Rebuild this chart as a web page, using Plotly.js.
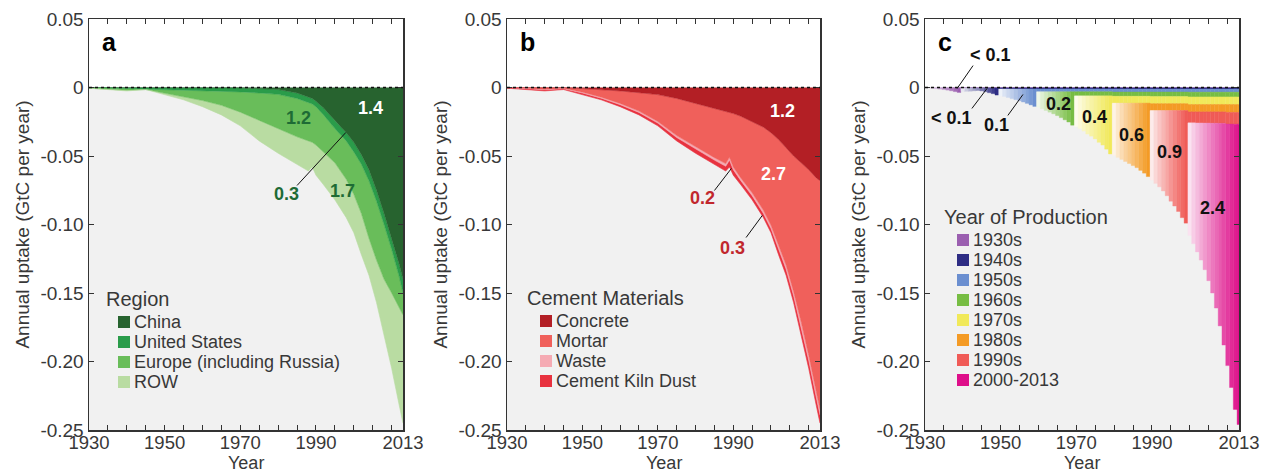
<!DOCTYPE html>
<html><head><meta charset="utf-8">
<script src="https://cdn.plot.ly/plotly-3.0.1.min.js"></script>
<style>html,body{margin:0;padding:0;background:#fff}#chart{width:1278px;height:474px}</style>
</head><body><div id="chart"></div>
<script>
// ---------------- DATA (GtC per year, negative = uptake) ----------------
const years = [1930,1935,1940,1945,1950,1955,1960,1965,1970,1975,1980,1985,1988,1989,1990,1992,1995,1998,2000,2002,2004,2006,2008,2010,2012,2013];

// Panel a: regions
const china  = [0,0,0,0,0,0,0,0,-0.0003,-0.0008,-0.0015,-0.004,-0.007,-0.008,-0.010,-0.015,-0.024,-0.033,-0.040,-0.049,-0.060,-0.075,-0.092,-0.110,-0.129,-0.140];
const usa    = [0,-0.0004,-0.0007,-0.0008,-0.0012,-0.0018,-0.0022,-0.0027,-0.0029,-0.0032,-0.0035,-0.004,-0.004,-0.004,-0.004,-0.005,-0.006,-0.006,-0.007,-0.007,-0.008,-0.008,-0.008,-0.008,-0.009,-0.010];
const europe = [-0.0005,-0.0008,-0.0013,-0.0007,-0.0028,-0.0047,-0.0073,-0.0103,-0.0148,-0.020,-0.025,-0.028,-0.028,-0.028,-0.028,-0.027,-0.025,-0.028,-0.031,-0.036,-0.042,-0.043,-0.040,-0.032,-0.022,-0.016];
const row    = [0,-0.0003,-0.0005,0,-0.001,-0.0025,-0.0045,-0.007,-0.010,-0.015,-0.018,-0.020,-0.022,-0.018,-0.022,-0.024,-0.027,-0.028,-0.028,-0.030,-0.027,-0.031,-0.040,-0.055,-0.072,-0.079];

// Panel b: cement materials
const concrete = [0,0,0,-0.0003,-0.0008,-0.0015,-0.0025,-0.0038,-0.0052,-0.008,-0.0115,-0.0155,-0.0175,-0.018,-0.019,-0.021,-0.025,-0.029,-0.033,-0.038,-0.044,-0.050,-0.055,-0.060,-0.066,-0.068];
const mortar   = [-0.0002,-0.0008,-0.0014,-0.0004,-0.0027,-0.0056,-0.0091,-0.0134,-0.0196,-0.0271,-0.0319,-0.0357,-0.038,-0.033,-0.039,-0.045,-0.0518,-0.0606,-0.0675,-0.0778,-0.0855,-0.099,-0.116,-0.1355,-0.156,-0.167];
const waste    = [0,-0.0002,-0.0003,-0.0003,-0.0005,-0.0007,-0.0009,-0.001,-0.0012,-0.0014,-0.0016,-0.0018,-0.002,-0.002,-0.002,-0.002,-0.0022,-0.0024,-0.0025,-0.0027,-0.003,-0.003,-0.0035,-0.0035,-0.004,-0.004];
const ckd      = [-0.0003,-0.0005,-0.0008,-0.0005,-0.001,-0.0012,-0.0015,-0.0018,-0.002,-0.0025,-0.003,-0.003,-0.0035,-0.005,-0.004,-0.003,-0.003,-0.003,-0.003,-0.0035,-0.0045,-0.005,-0.0055,-0.006,-0.006,-0.006];

// Panel c: uptake by decade of production, one value per year from the decade's first year to 2013
const c1930s = [-0.0002,-0.0004,-0.0006,-0.0009,-0.0012,-0.0015,-0.0019,-0.0024,-0.0030,-0.0036,
  -0.0003,-0.0003,-0.0003,-0.0003,-0.0003,-0.0003,-0.0003,-0.0003,-0.0003,-0.0003,
  -0.0003,-0.0003,-0.0003,-0.0003,-0.0003,-0.0003,-0.0003,-0.0003,-0.0003,-0.0003,
  -0.0003,-0.0003,-0.0003,-0.0003,-0.0003,-0.0003,-0.0003,-0.0003,-0.0003,-0.0003,
  -0.0003,-0.0003,-0.0003,-0.0003,-0.0003,-0.0003,-0.0003,-0.0003,-0.0003,-0.0003,
  -0.0003,-0.0003,-0.0003,-0.0003,-0.0003,-0.0003,-0.0003,-0.0003,-0.0003,-0.0003,
  -0.0003,-0.0003,-0.0003,-0.0003,-0.0003,-0.0003,-0.0003,-0.0003,-0.0003,-0.0003,
  -0.0003,-0.0003,-0.0003,-0.0003,-0.0003,-0.0003,-0.0003,-0.0003,-0.0003,-0.0003,
  -0.0003,-0.0003,-0.0003,-0.0003];
const c1940s = [-0.0027,-0.0025,-0.0024,-0.0021,-0.0019,-0.0022,-0.0028,-0.0035,-0.0042,-0.0052,
  -0.0008,-0.0008,-0.0008,-0.0008,-0.0008,-0.0008,-0.0008,-0.0008,-0.0008,-0.0008,
  -0.0008,-0.0008,-0.0008,-0.0008,-0.0008,-0.0008,-0.0008,-0.0008,-0.0008,-0.0008,
  -0.0008,-0.0008,-0.0008,-0.0008,-0.0008,-0.0008,-0.0008,-0.0008,-0.0008,-0.0008,
  -0.0009,-0.0009,-0.0009,-0.0009,-0.0009,-0.0009,-0.0009,-0.0009,-0.0009,-0.0009,
  -0.0009,-0.0009,-0.0009,-0.0009,-0.0009,-0.0009,-0.0009,-0.0009,-0.0009,-0.0009,
  -0.0009,-0.0009,-0.0009,-0.0009,-0.0009,-0.0009,-0.0009,-0.0009,-0.0009,-0.0009,
  -0.0009,-0.0009,-0.0009,-0.0009];
const c1950s = [-0.0049,-0.0055,-0.0062,-0.0070,-0.0078,-0.0086,-0.0095,-0.0105,-0.0116,-0.0127,
  -0.0020,-0.0020,-0.0020,-0.0020,-0.0020,-0.0020,-0.0020,-0.0020,-0.0020,-0.0020,
  -0.0020,-0.0020,-0.0020,-0.0020,-0.0020,-0.0020,-0.0020,-0.0020,-0.0020,-0.0020,
  -0.0021,-0.0021,-0.0021,-0.0021,-0.0021,-0.0021,-0.0021,-0.0021,-0.0021,-0.0021,
  -0.0021,-0.0021,-0.0021,-0.0021,-0.0021,-0.0021,-0.0021,-0.0021,-0.0021,-0.0021,
  -0.0022,-0.0022,-0.0022,-0.0022,-0.0022,-0.0022,-0.0022,-0.0022,-0.0022,-0.0022,
  -0.0022,-0.0022,-0.0022,-0.0022];
const c1960s = [-0.0114,-0.0125,-0.0137,-0.0149,-0.0161,-0.0174,-0.0189,-0.0205,-0.0221,-0.0244,
  -0.0030,-0.0030,-0.0030,-0.0030,-0.0030,-0.0030,-0.0030,-0.0030,-0.0030,-0.0030,
  -0.0031,-0.0031,-0.0031,-0.0031,-0.0031,-0.0031,-0.0031,-0.0031,-0.0031,-0.0031,
  -0.0033,-0.0033,-0.0033,-0.0033,-0.0033,-0.0033,-0.0033,-0.0033,-0.0033,-0.0033,
  -0.0035,-0.0035,-0.0035,-0.0035,-0.0035,-0.0035,-0.0035,-0.0035,-0.0035,-0.0035,
  -0.0035,-0.0035,-0.0035,-0.0035];
const c1970s = [-0.0224,-0.0239,-0.0257,-0.0279,-0.0294,-0.0314,-0.0339,-0.0359,-0.0389,-0.0424,
  -0.0050,-0.0050,-0.0050,-0.0050,-0.0050,-0.0050,-0.0050,-0.0050,-0.0050,-0.0050,
  -0.0052,-0.0052,-0.0052,-0.0052,-0.0052,-0.0052,-0.0052,-0.0052,-0.0052,-0.0052,
  -0.0055,-0.0055,-0.0055,-0.0055,-0.0055,-0.0055,-0.0055,-0.0055,-0.0055,-0.0055,
  -0.0055,-0.0055,-0.0055,-0.0055];
const c1980s = [-0.0381,-0.0396,-0.0411,-0.0426,-0.0441,-0.0456,-0.0471,-0.0491,-0.0511,-0.0536,
  -0.0050,-0.0050,-0.0050,-0.0050,-0.0050,-0.0050,-0.0050,-0.0050,-0.0050,-0.0050,
  -0.0054,-0.0054,-0.0054,-0.0054,-0.0054,-0.0054,-0.0054,-0.0054,-0.0054,-0.0054,
  -0.0058,-0.0058,-0.0058,-0.0058];
const c1990s = [-0.0507,-0.0532,-0.0557,-0.0587,-0.0622,-0.0662,-0.0697,-0.0737,-0.0782,-0.0822,
  -0.0080,-0.0080,-0.0081,-0.0081,-0.0082,-0.0082,-0.0083,-0.0083,-0.0084,-0.0084,
  -0.0085,-0.0085,-0.0086,-0.0086];
const c2000s = [-0.0822,-0.0882,-0.0941,-0.1001,-0.1070,-0.1150,-0.1239,-0.1349,-0.1478,-0.1618,-0.1763,-0.1923,-0.2082,-0.2192];

const decadeNames  = ['1930s','1940s','1950s','1960s','1970s','1980s','1990s','2000-2013'];
const decadeStarts = [1930,1940,1950,1960,1970,1980,1990,2000];
const decadeLens   = [10,10,10,10,10,10,10,14];
const decadeVals   = [c1930s,c1940s,c1950s,c1960s,c1970s,c1980s,c1990s,c2000s];

// Tick labels
const xTickVals = [1930,1950,1970,1990,2013];
const xTickText = ['1930','1950','1970','1990','2013'];
const yTickVals = [0.05,0,-0.05,-0.10,-0.15,-0.20,-0.25];
const yTickText = ['0.05','0','-0.05','-0.10','-0.15','-0.20','-0.25'];

// ---------------- STYLE ----------------
const W = 1278, H = 474;
const PX = x => x / W, PY = y => 1 - y / H;
const FONT = 'Liberation Sans, Arial, Helvetica, sans-serif';
const TXT = '#383838';

const colA = ['#27632f','#2a9c4a','#69bd5a','#b9dca2'];
const colB = ['#b31f25','#f0605b','#f5aab3','#e8323f'];
const colC = ['#9b5fb0','#2e2d84','#6b8fd0','#77bd43','#f1e95a','#f49b25','#f05b57','#de0f8a'];

function mixWhite(hex, f) {
  const r = parseInt(hex.slice(1,3),16), g = parseInt(hex.slice(3,5),16), b = parseInt(hex.slice(5,7),16);
  const m = c => Math.round(255 + (c - 255) * f);
  return 'rgb(' + m(r) + ',' + m(g) + ',' + m(b) + ')';
}

const traces = [];
function area(y, color, xa, ya, grp) {
  traces.push({type:'scatter', x:years, y:y, stackgroup:grp, mode:'lines',
    line:{width:0.6, color:color}, fillcolor:color, xaxis:xa, yaxis:ya,
    hoverinfo:'skip', showlegend:false});
}
[china, usa, europe, row].forEach((s,i) => area(s, colA[i], 'x', 'y', 'ga'));
[concrete, mortar, waste, ckd].forEach((s,i) => area(s, colB[i], 'x2', 'y2', 'gb'));

decadeVals.forEach((vals, k) => {
  const start = decadeStarts[k], n = decadeLens[k];
  const xs = vals.map((_, i) => start + i);
  const cols = vals.map((_, i) => i < n ? mixWhite(colC[k], 0.12 + 0.88 * Math.pow(i / (n - 1), 0.9)) : colC[k]);
  traces.push({type:'bar', x:xs, y:vals, width:1, xaxis:'x3', yaxis:'y3',
    marker:{color:cols, line:{width:0.4, color:cols}}, hoverinfo:'skip', showlegend:false});
});

const yDom = [PY(430), PY(19)];
function xAxis(d0, d1, anchor) {
  return {domain:[PX(d0), PX(d1)], anchor:anchor, range:[1930,2013], tickmode:'array',
    tickvals:xTickVals, ticktext:xTickText, ticks:'inside', ticklen:5, tickwidth:1, tickcolor:'#333',
    minor:{tickmode:'linear', tick0:1930, dtick:5, ticks:'inside', ticklen:5, tickwidth:1, tickcolor:'#333', showgrid:false},
    showline:true, linecolor:'#333', linewidth:1.5, mirror:'ticks', showgrid:false, zeroline:false,
    tickfont:{family:FONT, size:18.5, color:TXT}, ticklabelstandoff:-5, fixedrange:true};
}
function yAxis(anchor) {
  return {domain:yDom, anchor:anchor, range:[-0.25,0.05], tickmode:'array',
    tickvals:yTickVals, ticktext:yTickText, ticks:'inside', ticklen:5, tickwidth:1, tickcolor:'#333',
    showline:true, linecolor:'#333', linewidth:1.5, mirror:'ticks', showgrid:false, zeroline:false,
    tickfont:{family:FONT, size:19, color:TXT},
    title:{text:'Annual uptake (GtC per year)', font:{family:FONT, size:19, color:TXT}, standoff:5}, fixedrange:true};
}

const shapes = [], annotations = [];
[['x','y'],['x2','y2'],['x3','y3']].forEach(([xa, ya]) => {
  shapes.push({type:'rect', xref:xa, yref:ya, x0:1930, x1:2013, y0:-0.25, y1:0, fillcolor:'#f1f1f1', line:{width:0}, layer:'below'});
  shapes.push({type:'line', xref:xa, yref:ya, x0:1930, x1:2013, y0:0, y1:0, line:{color:'#111', width:1.6, dash:'dot'}, layer:'above'});
});

// x-axis titles
[246, 663.5, 1082].forEach(cx => annotations.push({text:'Year', xref:'paper', yref:'paper', x:PX(cx), y:PY(463),
  xanchor:'center', yanchor:'middle', showarrow:false, font:{family:FONT, size:18, color:TXT}}));

// panel letters
[['a',100],['b',518],['c',936]].forEach(([t, x]) => annotations.push({text:'<b>'+t+'</b>', xref:'paper', yref:'paper',
  x:PX(x), y:PY(42), xanchor:'left', yanchor:'middle', showarrow:false, font:{family:FONT, size:25, color:'#000'}}));

function lab(t, x, y, xa, ya, color) {
  annotations.push({text:'<b>'+t+'</b>', xref:xa, yref:ya, x:x, y:y, xanchor:'center', yanchor:'middle',
    showarrow:false, font:{family:FONT, size:18, color:color}});
}
function leader(x0, y0, x1, y1, xa, ya) {
  shapes.push({type:'line', xref:xa, yref:ya, x0:x0, y0:y0, x1:x1, y1:y1, line:{color:'#111', width:1}, layer:'above'});
}
const gTxt = '#1e6b35', rTxt = '#c1272d';
lab('1.4', 2004.5, -0.0153, 'x', 'y', '#fff');
lab('1.2', 1985.5, -0.0226, 'x', 'y', gTxt);
lab('1.7', 1997.1, -0.0752, 'x', 'y', gTxt);
lab('0.3', 1982.3, -0.0781, 'x', 'y', gTxt);
leader(1985.0, -0.0715, 1997.9, -0.0328, 'x', 'y');

lab('1.2', 2003.0, -0.0168, 'x2', 'y2', '#fff');
lab('2.7', 2000.8, -0.0628, 'x2', 'y2', '#fff');
lab('0.2', 1981.8, -0.0810, 'x2', 'y2', rTxt);
lab('0.3', 1989.7, -0.1168, 'x2', 'y2', rTxt);
leader(1985.0, -0.0752, 1989.5, -0.0591, 'x2', 'y2');
leader(1993.4, -0.1095, 1997.7, -0.0934, 'x2', 'y2');

lab('&lt; 0.1', 1947.3, 0.0234, 'x3', 'y3', '#111');
lab('&lt; 0.1', 1937.0, -0.0226, 'x3', 'y3', '#111');
lab('0.1', 1948.9, -0.0277, 'x3', 'y3', '#111');
lab('0.2', 1965.4, -0.0117, 'x3', 'y3', '#111');
lab('0.4', 1974.9, -0.0219, 'x3', 'y3', '#111');
lab('0.6', 1984.7, -0.0350, 'x3', 'y3', '#111');
lab('0.9', 1994.6, -0.0474, 'x3', 'y3', '#111');
lab('2.4', 2006.1, -0.0883, 'x3', 'y3', '#111');
leader(1942.7, 0.0160, 1938.5, -0.0007, 'x3', 'y3');
leader(1942.4, -0.0153, 1946.4, -0.0007, 'x3', 'y3');
leader(1951.9, -0.0204, 1955.9, -0.0051, 'x3', 'y3');

// legends (drawn manually)
function legend(title, tx, ty, sx, rows, names, cols) {
  annotations.push({text:title, xref:'paper', yref:'paper', x:PX(tx), y:PY(ty), xanchor:'left', yanchor:'middle',
    showarrow:false, font:{family:FONT, size:20, color:TXT}});
  names.forEach((n, i) => {
    const cy = rows[i];
    shapes.push({type:'rect', xref:'paper', yref:'paper', x0:PX(sx), x1:PX(sx+12), y0:PY(cy+6), y1:PY(cy-6),
      fillcolor:cols[i], line:{width:0}});
    annotations.push({text:n, xref:'paper', yref:'paper', x:PX(sx+14), y:PY(cy), xanchor:'left', yanchor:'middle',
      showarrow:false, font:{family:FONT, size:18, color:TXT}});
  });
}
legend('Region', 104, 299, 118, [322,342,362,382], ['China','United States','Europe (including Russia)','ROW'], colA);
legend('Cement Materials', 525, 298, 540, [321,341,361,381], ['Concrete','Mortar','Waste','Cement Kiln Dust'], colB);
legend('Year of Production', 942, 217, 957, [240,260,280,300,320,340,360,380], decadeNames, colC);

const layout = {
  width:W, height:H, margin:{l:0, r:0, t:0, b:0}, paper_bgcolor:'#fff', plot_bgcolor:'#fff',
  showlegend:false, barmode:'relative', bargap:0, font:{family:FONT, color:TXT},
  xaxis:xAxis(89, 403, 'y'), yaxis:yAxis('x'),
  xaxis2:xAxis(507, 820, 'y2'), yaxis2:yAxis('x2'),
  xaxis3:xAxis(925, 1239, 'y3'), yaxis3:yAxis('x3'),
  shapes:shapes, annotations:annotations
};
Plotly.newPlot('chart', traces, layout, {staticPlot:true, displayModeBar:false});
</script></body></html>
